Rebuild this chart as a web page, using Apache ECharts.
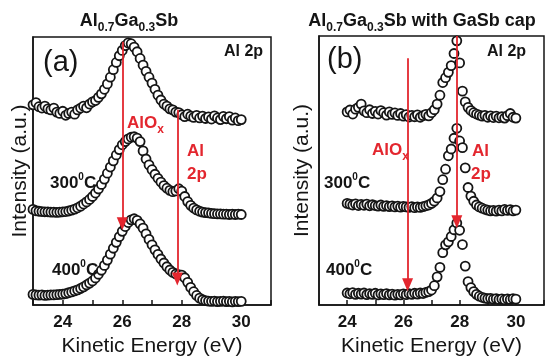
<!DOCTYPE html>
<html>
<head>
<meta charset="utf-8">
<script src="https://cdn.jsdelivr.net/npm/echarts@6/dist/echarts.min.js"></script>
<style>
  html, body { margin: 0; padding: 0; background: #fff; }
  #chart { width: 548px; height: 362px; }
</style>
</head>
<body>
<div id="chart"></div>
<script>
// kinetic energy grid (eV)
const energyA = [
  23.0, 23.1, 23.2, 23.3, 23.4, 23.5, 23.6, 23.7, 23.8, 23.9,
  24.0, 24.1, 24.2, 24.3, 24.4, 24.5, 24.6, 24.7, 24.8, 24.9,
  25.0, 25.1, 25.2, 25.3, 25.4, 25.5, 25.6, 25.7, 25.8, 25.9,
  26.0, 26.1, 26.2, 26.3, 26.4, 26.5, 26.6, 26.7, 26.8, 26.9,
  27.0, 27.1, 27.2, 27.3, 27.4, 27.5, 27.6, 27.7, 27.8, 27.9,
  28.0, 28.1, 28.2, 28.3, 28.4, 28.5, 28.6, 28.7, 28.8, 28.9,
  29.0, 29.1, 29.2, 29.3, 29.4, 29.5, 29.6, 29.7, 29.8, 29.9,
  30.0
];
const energyB = energyA.slice(10); // 24.0 .. 30.0

// (a) Al0.7Ga0.3Sb, offset intensities
const asGrownA = [
  74.7, 75.5, 74.0, 73.5, 74.2, 73.2, 72.8, 73.5, 72.0, 71.5,
  72.3, 70.8, 71.5, 72.0, 71.2, 72.8, 73.5, 74.2, 73.6, 75.0,
  75.8, 76.3, 77.5, 78.8, 80.5, 82.5, 85.0, 87.8, 90.5, 93.0,
  95.0, 96.8, 97.8, 97.5, 96.2, 94.5, 92.0, 89.5, 87.2, 85.0,
  82.8, 80.5, 78.3, 76.5, 75.0, 74.2, 73.2, 72.8, 72.0, 71.8,
  71.0, 70.3, 71.2, 70.5, 70.0, 70.8, 69.8, 70.5, 69.6, 70.2,
  69.4, 70.6, 69.8, 69.2, 70.4, 69.5, 70.3, 69.0, 69.8, 68.8,
  69.2
];
const t300A = [
  35.7, 35.2, 35.0, 34.9, 34.8, 34.8, 34.7, 34.7, 34.6, 34.7,
  34.8, 34.9, 35.1, 35.4, 35.8, 36.3, 36.9, 37.7, 38.5, 39.4,
  40.5, 41.8, 43.3, 45.0, 47.0, 49.2, 51.5, 53.8, 56.0, 58.0,
  59.8, 61.0, 62.0, 62.6, 62.8, 62.3, 61.0, 57.5, 54.5, 52.3,
  50.5, 48.8, 47.3, 45.9, 44.6, 43.6, 42.8, 42.3, 42.6, 43.4,
  42.5, 40.5, 38.6, 37.2, 36.2, 35.5, 35.0, 34.7, 34.5, 34.4,
  34.2, 34.1, 34.0, 34.0, 33.9, 33.9, 33.8, 33.9, 33.8, 33.9,
  33.8
];
const t400A = [
  4.0, 3.8, 3.7, 3.8, 3.6, 3.7, 3.8, 3.8, 3.9, 4.0,
  4.1, 4.3, 4.6, 4.9, 5.3, 5.7, 6.2, 6.8, 7.5, 8.2,
  9.0, 10.1, 11.5, 13.0, 14.8, 16.8, 19.0, 21.2, 23.4, 25.5,
  27.5, 29.3, 30.8, 31.8, 32.2, 31.6, 30.3, 28.7, 26.6, 24.5,
  22.5, 20.6, 18.9, 17.2, 15.7, 14.3, 13.1, 12.2, 11.6, 11.4,
  11.2, 10.2, 8.5, 6.6, 5.0, 3.6, 2.6, 2.0, 1.7, 1.5,
  1.4, 1.5, 1.3, 1.4, 1.5, 1.3, 1.4, 1.2, 1.4, 1.3,
  1.4
];

// (b) Al0.7Ga0.3Sb with GaSb cap
const asGrownB = [
  71.8, 72.5, 71.0, 72.8, 73.5, 74.7, 72.2, 71.5, 72.6, 71.2,
  72.0, 71.0, 72.3, 71.5, 70.6, 71.8, 70.9, 71.4, 70.5, 71.2,
  70.2, 70.8, 69.9, 70.5, 70.0, 70.7, 69.8, 70.4, 70.9, 70.3,
  71.5, 72.6, 74.7, 78.0, 82.7, 84.5, 86.5, 89.0, 93.5, 98.2,
  90.0, 79.5, 75.5, 73.5, 72.3, 71.5, 71.0, 70.6, 70.2, 70.5,
  69.8, 70.3, 69.7, 70.2, 69.6, 70.0, 69.5, 70.4, 71.2, 69.8,
  69.5
];
const t300B = [
  37.8, 37.5, 37.2, 37.6, 37.0, 37.4, 37.1, 37.5, 36.9, 37.3,
  37.0, 36.8, 37.2, 36.7, 37.0, 36.6, 36.9, 36.5, 36.8, 36.4,
  36.7, 36.5, 36.3, 36.6, 36.2, 36.5, 36.3, 36.6, 36.9, 37.2,
  37.8, 38.6, 39.8, 42.2, 46.6, 50.5, 55.5, 58.0, 62.0, 65.7,
  61.0, 58.5, 51.0, 43.7, 40.5, 38.6, 37.2, 36.5, 36.0, 35.6,
  35.3, 35.0, 35.2, 34.9, 35.3, 35.0, 35.6, 35.2, 35.5, 35.0,
  35.3
];
const t400B = [
  4.5, 4.2, 4.6, 4.0, 4.4, 4.1, 4.5, 3.9, 4.3, 4.0,
  4.4, 3.8, 4.2, 3.9, 4.3, 3.8, 4.1, 3.7, 4.0, 3.8,
  4.2, 3.9, 4.3, 4.0, 4.4, 4.1, 4.5, 4.3, 4.7, 5.0,
  5.6, 7.2, 10.5, 14.0, 19.5, 22.4, 23.5, 25.5, 28.0, 30.5,
  27.8, 22.5, 14.5, 8.7, 6.5, 5.0, 4.0, 3.3, 2.9, 2.6,
  2.4, 2.5, 2.2, 2.4, 2.1, 2.3, 2.0, 2.3, 2.1, 2.4,
  2.2
];

const xTickLabels = [24, 26, 28, 30];
// arrows: [energy, start intensity, tip intensity]
const arrowsA = [[26.0, 98.2, 30.3], [27.85, 72.9, 9.7]];
const arrowsB = [[26.15, 91.7, 7.6], [27.9, 100, 31.0]];

const FONT = 'Liberation Sans, Arial, sans-serif';
const INK = '#151515';
const RED = '#e3262e';

const chart = echarts.init(document.getElementById('chart'));

const pts = function (xs, ys) {
  return xs.map((x, i) => [x, ys[i]]);
};

const xAxisFor = function (gi) {
  return {
    gridIndex: gi,
    type: 'value',
    min: 23,
    max: 31,
    interval: 1,
    axisLine: { show: true, lineStyle: { color: INK, width: 1.5 } },
    axisTick: { show: true, inside: true, length: 5, lineStyle: { color: INK, width: 1.5 } },
    axisLabel: {
      margin: 9,
      color: INK,
      fontSize: 17,
      fontWeight: 'bold',
      fontFamily: FONT,
      formatter: (v) => (xTickLabels.includes(v) ? String(v) : ''),
    },
    splitLine: { show: false },
    name: 'Kinetic Energy (eV)',
    nameLocation: 'middle',
    nameGap: 28,
    nameTextStyle: { fontSize: 21, color: INK, fontFamily: FONT },
  };
};

const yAxisFor = function (gi, gap) {
  return {
    gridIndex: gi,
    type: 'value',
    min: 0,
    max: 100,
    axisLine: { show: true, lineStyle: { color: INK, width: 1.5 } },
    axisTick: { show: false },
    axisLabel: { show: false },
    splitLine: { show: false },
    name: 'Intensity (a.u.)',
    nameLocation: 'middle',
    nameGap: gap,
    nameTextStyle: { fontSize: 21, color: INK, fontFamily: FONT },
  };
};

const scatter = function (gi, data) {
  return {
    type: 'scatter',
    xAxisIndex: gi,
    yAxisIndex: gi,
    symbol: 'circle',
    symbolSize: 9,
    itemStyle: { color: '#fff', borderColor: INK, borderWidth: 1.8, opacity: 1 },
    data: data,
  };
};

const arrows = function (gi, list) {
  return {
    type: 'line',
    xAxisIndex: gi,
    yAxisIndex: gi,
    data: [],
    z: 10,
    markLine: {
      silent: true,
      symbol: ['none', 'triangle'],
      symbolSize: [11, 13],
      label: { show: false },
      lineStyle: { color: RED, width: 1.8, type: 'solid' },
      data: list.map((a) => [{ coord: [a[0], a[1]] }, { coord: [a[0], a[2]] }]),
    },
  };
};

const txt = function (x, y, text, opt) {
  return {
    type: 'text',
    x: x,
    y: y,
    z: 100,
    style: Object.assign(
      {
        text: text,
        fill: INK,
        fontFamily: FONT,
        fontSize: 17,
        fontWeight: 'bold',
        align: 'left',
        verticalAlign: 'middle',
      },
      opt || {}
    ),
  };
};

const subRich = {
  s: { fontSize: 12, fontWeight: 'bold', fontFamily: FONT, verticalAlign: 'bottom', lineHeight: 25, fill: INK },
};
const supRich = {
  sup: { fontSize: 10, fontWeight: 'bold', fontFamily: FONT, verticalAlign: 'top', lineHeight: 22, fill: INK },
};
const redSub = {
  s: { fontSize: 12, fontWeight: 'bold', fontFamily: FONT, verticalAlign: 'bottom', lineHeight: 26, fill: RED },
};

chart.setOption({
  animation: false,
  grid: [
    { left: 33, top: 37, width: 238, height: 277, show: true, borderColor: INK, borderWidth: 1.5, backgroundColor: 'transparent' },
    { left: 319, top: 36, width: 225, height: 278, show: true, borderColor: INK, borderWidth: 1.5, backgroundColor: 'transparent' },
  ],
  xAxis: [xAxisFor(0), xAxisFor(1)],
  yAxis: [yAxisFor(0, 2), yAxisFor(1, 6)],
  series: [
    scatter(0, pts(energyA, asGrownA)),
    scatter(0, pts(energyA, t300A)),
    scatter(0, pts(energyA, t400A)),
    scatter(1, pts(energyB, asGrownB)),
    scatter(1, pts(energyB, t300B)),
    scatter(1, pts(energyB, t400B)),
    arrows(0, arrowsA),
    arrows(1, arrowsB),
  ],
  graphic: [
    txt(129, 21, 'Al{s|0.7}Ga{s|0.3}Sb', { align: 'center', fontSize: 18, rich: subRich }),
    txt(422, 21, 'Al{s|0.7}Ga{s|0.3}Sb with GaSb cap', { align: 'center', fontSize: 18, rich: subRich }),
    txt(43, 63, '(a)', { fontSize: 29, fontWeight: 'normal' }),
    txt(327, 60, '(b)', { fontSize: 29, fontWeight: 'normal' }),
    txt(224, 52, 'Al 2p', { fontSize: 16 }),
    txt(487, 52, 'Al 2p', { fontSize: 16 }),
    txt(50, 183, '300{sup|0}C', { rich: supRich }),
    txt(52, 270, '400{sup|0}C', { rich: supRich }),
    txt(324, 183, '300{sup|0}C', { rich: supRich }),
    txt(326, 270, '400{sup|0}C', { rich: supRich }),
    txt(127, 123, 'AlO{s|x}', { fill: RED, rich: redSub }),
    txt(187, 151, 'Al', { fill: RED }),
    txt(187, 174, '2p', { fill: RED }),
    txt(372, 150, 'AlO{s|x}', { fill: RED, rich: redSub }),
    txt(472, 151, 'Al', { fill: RED }),
    txt(471, 174, '2p', { fill: RED }),
  ],
});
</script>
</body>
</html>
